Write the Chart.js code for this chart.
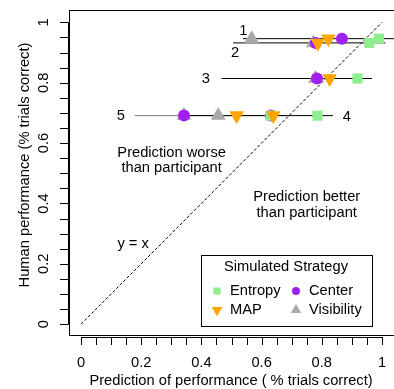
<!DOCTYPE html>
<html>
<head>
<meta charset="utf-8">
<script src="https://cdn.jsdelivr.net/npm/chart.js@4.4.0/dist/chart.umd.min.js"></script>
<style>
  html, body { margin: 0; padding: 0; background: #fff; }
</style>
</head>
<body>
<canvas id="chart" width="394" height="389"></canvas>
<script>
// ---- data ----
const rowNames = ["1", "2", "3", "4", "5"];
const rowY = [0.946, 0.932, 0.814, 0.691, 0.691];       // human performance
const lineStart = [0.538, 0.505, 0.467, 0.339, 0.179];
const lineEnd = [1.04, 1.011, 0.967, 0.837, 0.68];
const rowLabelX = [0.539, 0.512, 0.415, 0.883, 0.132];
const rowLabelY = [0.972, 0.900, 0.812, 0.687, 0.691];

const entropy = [0.990, 0.958, 0.919, 0.786, 0.630];
const mapPred = [0.822, 0.787, 0.826, 0.639, 0.517];
const center = [0.867, 0.780, 0.784, 0.631, 0.342];
const visibility = [0.567, 0.772, 0.779, 0.456, 0.342];

const tickValues = [0, 0.2, 0.4, 0.6, 0.8, 1];
const tickLabels = ["0", "0.2", "0.4", "0.6", "0.8", "1"];

const notes = [
    { text: "Prediction worse", x: 0.301, y: 0.568 },
    { text: "than participant", x: 0.301, y: 0.516 },
    { text: "Prediction better", x: 0.750, y: 0.422 },
    { text: "than participant", x: 0.750, y: 0.369 },
    { text: "y = x", x: 0.173, y: 0.267 }
];

const GREEN = "#90EE90";
const PURPLE = "#A020F0";
const ORANGE = "#FFA500";
const GRAY = "#A9A9A9";
const FONT = "14.7px 'Liberation Sans', Arial, sans-serif";

function pts(xs) {
    return xs.map((v, i) => ({ x: v, y: rowY[i] }));
}

const datasets = [];

/* ===== horizontal row lines ===== */
rowY.forEach((yv, i) => {
    datasets.push({
        type: "line",
        data: [{ x: lineStart[i], y: yv }, { x: lineEnd[i], y: yv }],
        borderColor: i === 4 ? "#777" : "#000",
        borderWidth: 1,
        pointRadius: 0,
        order: 20
    });
});

/* ===== y = x ===== */
datasets.push({
    type: "line",
    data: [{ x: 0, y: 0 }, { x: 1, y: 1 }],
    borderColor: "#000",
    borderWidth: 1,
    borderDash: [3, 2],
    pointRadius: 0,
    order: 20
});

/* ===== strategies ===== */
datasets.push({ label: "Visibility", data: pts(visibility), pointStyle: "triangle", pointRadius: 8.5,
    backgroundColor: GRAY, borderWidth: 0, order: 4 });
datasets.push({ label: "Center", data: pts(center), pointStyle: "circle", pointRadius: 6,
    backgroundColor: PURPLE, borderWidth: 0, order: 3 });
datasets.push({ label: "Entropy", data: pts(entropy), pointStyle: "rect", pointRadius: 7.2,
    backgroundColor: GREEN, borderWidth: 0, order: 2 });
datasets.push({ label: "MAP", data: pts(mapPred), pointStyle: "triangle", rotation: 180, pointRadius: 8.5,
    backgroundColor: ORANGE, borderWidth: 0, order: 1 });

const rStyle = {
    id: "rStyle",
    afterDraw(chart) {
        const { ctx, chartArea: a, scales: { x, y } } = chart;
        ctx.save();
        ctx.strokeStyle = "#000";
        ctx.fillStyle = "#000";
        ctx.lineWidth = 1;

        // box
        ctx.strokeRect(a.left + 0.5, a.top + 0.5, a.right - a.left, a.bottom - a.top);

        // x axis
        const xl = Math.round(x.getPixelForValue(0)) + 0.5;
        const xr = Math.round(x.getPixelForValue(1)) + 0.5;
        ctx.beginPath();
        ctx.moveTo(xl, 337.5); ctx.lineTo(xr, 337.5);
        for (let k = 0; k <= 20; k++) {
            const px = Math.round(x.getPixelForValue(k / 20)) + 0.5;
            ctx.moveTo(px, 337); ctx.lineTo(px, 345);
        }
        // y axis
        const yb = Math.round(y.getPixelForValue(0)) + 0.5;
        const yt = Math.round(y.getPixelForValue(1)) + 0.5;
        ctx.moveTo(68.5, yb); ctx.lineTo(68.5, yt);
        for (let k = 0; k <= 20; k++) {
            const py = Math.round(y.getPixelForValue(k / 20)) + 0.5;
            ctx.moveTo(60, py); ctx.lineTo(68.5, py);
        }
        ctx.stroke();

        ctx.font = FONT;
        ctx.textAlign = "center";
        ctx.textBaseline = "middle";
        tickValues.forEach((v, i) => {
            ctx.fillText(tickLabels[i], x.getPixelForValue(v), 363);
            ctx.save();
            ctx.translate(44, y.getPixelForValue(v));
            ctx.rotate(-Math.PI / 2);
            ctx.fillText(tickLabels[i], 0, 0);
            ctx.restore();
        });

        // axis titles
        ctx.fillText("Prediction of performance ( % trials correct)", 231, 381);
        ctx.save();
        ctx.translate(25, 165);
        ctx.rotate(-Math.PI / 2);
        ctx.fillText("Human performance (% trials correct)", 0, 0);
        ctx.restore();

        // row labels and notes
        rowNames.forEach((t, i) => {
            ctx.fillText(t, x.getPixelForValue(rowLabelX[i]), y.getPixelForValue(rowLabelY[i]));
        });
        notes.forEach(n => {
            ctx.fillText(n.text, x.getPixelForValue(n.x), y.getPixelForValue(n.y));
        });

        // legend
        ctx.fillStyle = "#fff";
        ctx.fillRect(201, 255, 171, 71);
        ctx.strokeRect(201.5, 255.5, 171, 71);
        ctx.fillStyle = "#000";
        ctx.fillText("Simulated Strategy", 286, 267);
        ctx.textAlign = "left";
        const items = [
            { t: "Entropy", c: GREEN, s: "rect", r: 5, rot: 0, x: 217, y: 291 },
            { t: "Center", c: PURPLE, s: "circle", r: 4, rot: 0, x: 296, y: 291 },
            { t: "MAP", c: ORANGE, s: "triangle", r: 6.2, rot: 180, x: 217, y: 310 },
            { t: "Visibility", c: GRAY, s: "triangle", r: 6, rot: 0, x: 296, y: 310 }
        ];
        items.forEach(it => {
            ctx.fillStyle = it.c;
            Chart.helpers.drawPoint(ctx, { pointStyle: it.s, radius: it.r, rotation: it.rot, borderWidth: 0 }, it.x, it.y);
            ctx.fillStyle = "#000";
            ctx.fillText(it.t, it.x + 13, it.y);
        });
        ctx.restore();
    }
};

new Chart(document.getElementById("chart"), {
    type: "scatter",
    data: { datasets: datasets },
    options: {
        responsive: false,
        animation: false,
        layout: { autoPadding: false, padding: { left: 69, top: 10, right: 0, bottom: 54 } },
        scales: {
            x: { type: "linear", min: -0.04, max: 1.04, display: false },
            y: { type: "linear", min: -0.036, max: 1.041, display: false }
        },
        plugins: { legend: { display: false }, tooltip: { enabled: false } }
    },
    plugins: [rStyle]
});
</script>
</body>
</html>
